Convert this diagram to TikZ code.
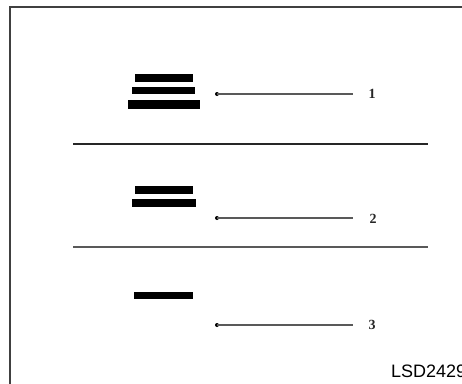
\documentclass[tikz,border=0pt]{standalone}
\usepackage{fontspec}
\setmainfont{Liberation Serif}
\newfontfamily\arialfont{Liberation Sans}
\begin{document}
\begin{tikzpicture}[x=1pt,y=-1pt,
  bar/.style={fill=black},
  leader/.style={draw=black!65,line width=1.1pt},
  tip/.style={circle,fill=black,inner sep=0pt,minimum size=4pt},
  num/.style={font=\bfseries\fontsize{14}{14}\selectfont,inner sep=1pt,text=black!85}]
\useasboundingbox (0,0) rectangle (462,383);
\clip (0,0) rectangle (462,383);
\fill[white] (0,0) rectangle (462,383);
% frame
\draw[line width=1.3pt,draw=black!75] (10,390) -- (10,7) -- (470,7);
% group 1
\fill[bar] (135,74) rectangle (193,82);
\fill[bar] (132,87) rectangle (195,94);
\fill[bar] (128,100) rectangle (200,109);
\node[tip] (d1) at (217,94) {};
\node[num] (n1) at (372,94) {1};
\draw[leader] (d1.center) -- (353,94) coordinate (e1);
% separator 1
\draw[line width=1.8pt,draw=black!85] (73,144) -- (428,144);
% group 2
\fill[bar] (135,186) rectangle (193,194);
\fill[bar] (132,199) rectangle (196,207);
\node[tip] (d2) at (217,218) {};
\node[num] (n2) at (373,219) {2};
\draw[leader] (d2.center) -- (353,218) coordinate (e2);
% separator 2
\draw[line width=2.6pt,draw=black!65] (73,247) -- (428,247);
% group 3
\fill[bar] (134,292) rectangle (193,299);
\node[tip] (d3) at (217,325) {};
\node[num] (n3) at (372,325) {3};
\draw[leader] (d3.center) -- (353,325) coordinate (e3);
% code
\node[anchor=base west,inner sep=0pt,font=\arialfont\fontsize{18}{18}\selectfont] (code) at (391,377) {LSD2429};
\end{tikzpicture}
\end{document}
